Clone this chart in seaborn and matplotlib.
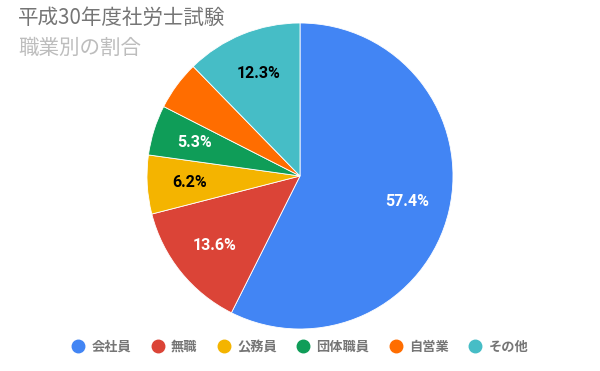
import matplotlib
matplotlib.use("Agg")
import matplotlib.pyplot as plt
import seaborn as sns
from matplotlib.lines import Line2D

# Data
categories = ["会社員", "無職", "公務員", "団体職員", "自営業", "その他"]
shares = [57.4, 13.6, 6.2, 5.3, 5.2, 12.3]
colors = ["#4285F4", "#DB4437", "#F4B400", "#0F9D58", "#FF6D00", "#46BDC6"]
label_colors = ["white", "white", "black", "white", "white", "black"]

sns.set_theme(style="white")
plt.rcParams["font.family"] = ["Noto Sans CJK JP", "DejaVu Sans"]

fig = plt.figure(figsize=(6, 3.71), dpi=100)
r = 153
cx, cy = 300, 176
ax = fig.add_axes([(cx - r) / 600, (371 - cy - r) / 371, 2 * r / 600, 2 * r / 371])

wedges, texts, autotexts = ax.pie(
    shares, colors=colors, startangle=90, counterclock=False,
    autopct=lambda p: f"{p:.1f}%" if p >= 5.25 else "",
    pctdistance=0.72, radius=1.0,
    wedgeprops=dict(linewidth=0.6, edgecolor="white"),
)
for t, c in zip(autotexts, label_colors):
    t.set_color(c)
    t.set_fontsize(11.5)
    t.set_fontweight("bold")
    t.set_family(["Roboto", "Noto Sans CJK JP"])
ax.set_aspect("equal")
ax.set_xlim(-1, 1)
ax.set_ylim(-1, 1)
ax.axis("off")

fig.text(18 / 600, 1 - 18 / 371, "平成30年度社労士試験", fontsize=14.8,
         color="#757575", va="center", ha="left")
fig.text(18 / 600, 1 - 48 / 371, "職業別の割合", fontsize=14.8,
         color="#BDBDBD", va="center", ha="left")

handles = [Line2D([0], [0], marker="o", linestyle="", markersize=9,
                  markerfacecolor=c, markeredgecolor=c) for c in colors]
leg = fig.legend(handles, categories, loc="center", bbox_to_anchor=(0.5, 1 - 347 / 371),
                 ncol=6, frameon=False, fontsize=9.5, handletextpad=0.5,
                 columnspacing=1.5, handlelength=1.0)
for t in leg.get_texts():
    t.set_color("#757575")
    t.set_fontweight("bold")

fig.savefig("out.png", dpi=100)
